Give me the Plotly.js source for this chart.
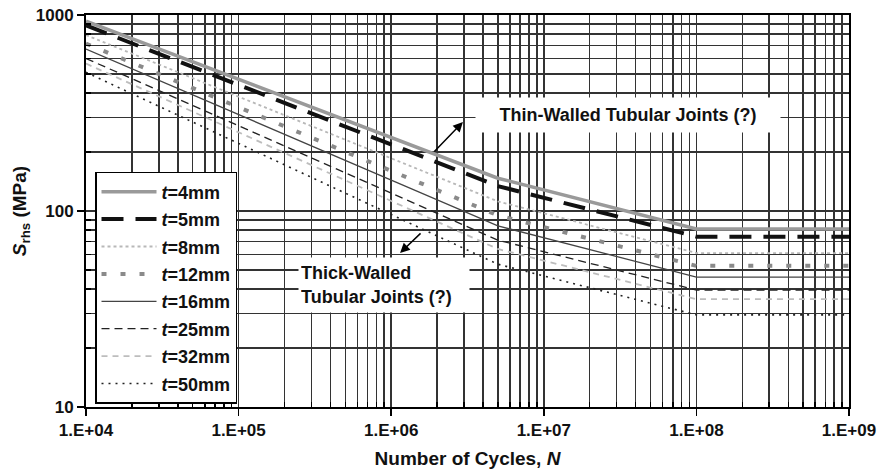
<!DOCTYPE html>
<html><head><meta charset="utf-8">
<script src="https://cdn.plot.ly/plotly-3.0.1.min.js"></script>
<style>html,body{margin:0;padding:0;background:#fff}#chart{width:878px;height:470px}</style>
</head><body><div id="chart"></div>
<script>
// Number of cycles at which values were read (start, slope change, knee, end)
const cycles = [1e4, 5e6, 1e8, 1e9];
// Hot-spot stress range S_rhs (MPa)
const s_t4  = [930, 147, 81, 81];
const s_t5  = [885, 134, 74, 74];
const s_t8  = [790, 112, 61, 61];
const s_t12 = [715, 95, 52.5, 52.5];
const s_t16 = [670, 84, 46, 46];
const s_t25 = [600, 71, 39.5, 39.5];
const s_t32 = [565, 64, 35.5, 35.5];
const s_t50 = [510, 53.5, 29.5, 29.5];
const seriesNames = ['<i>t</i>=4mm','<i>t</i>=5mm','<i>t</i>=8mm','<i>t</i>=12mm','<i>t</i>=16mm','<i>t</i>=25mm','<i>t</i>=32mm','<i>t</i>=50mm'];
const xTickVals = [1e4, 1e5, 1e6, 1e7, 1e8, 1e9];
const xTickText = ['1.E+04','1.E+05','1.E+06','1.E+07','1.E+08','1.E+09'];
const yTickVals = [10, 100, 1000];
const yTickText = ['10','100','1000'];

const seriesValues = [s_t4, s_t5, s_t8, s_t12, s_t16, s_t25, s_t32, s_t50];
const styles = [
  {color:'#9a9a9a', width:3.5, dash:'solid'},
  {color:'#111111', width:4, dash:'22px,12px'},
  {color:'#b8b8b8', width:1.8, dash:'3px,3px'},
  {color:'#8a8a8a', width:4, dash:'5px,14px'},
  {color:'#444444', width:1.3, dash:'solid'},
  {color:'#222222', width:1.3, dash:'8px,5px'},
  {color:'#bdbdbd', width:1.8, dash:'6px,5px'},
  {color:'#222222', width:1.6, dash:'2px,5px'}
];

const traces = seriesValues.map((vals, i) => ({
  x: cycles, y: vals, type: 'scatter', mode: 'lines',
  name: seriesNames[i], legendgroup: 'g' + i,
  line: styles[i]
}));

function minorVals(lo, hi) {
  const out = [];
  for (let e = lo; e < hi; e++) for (let m = 2; m <= 9; m++) out.push(m * Math.pow(10, e));
  return out;
}

const FONT = 'Liberation Sans, Arial, sans-serif';
const gridCol = '#333333';

const layout = {
  width: 878, height: 470,
  margin: {l: 86, r: 29, t: 15, b: 63},
  paper_bgcolor: '#ffffff', plot_bgcolor: '#ffffff',
  font: {family: FONT, size: 17, color: '#111', weight: 'bold'},
  showlegend: true,
  legend: {
    x: 0.0118, y: 0.5995, xanchor: 'left', yanchor: 'top',
    bgcolor: '#ffffff', bordercolor: '#000', borderwidth: 1.5,
    font: {family: FONT, size: 18, weight: 'bold', color: '#111'},
    tracegroupgap: 1, itemwidth: 55
  },
  xaxis: {
    type: 'log', range: [4, 9],
    tickmode: 'array', tickvals: xTickVals, ticktext: xTickText,
    ticks: 'outside', ticklen: 7, tickwidth: 1.5, tickcolor: '#000',
    showline: true, linecolor: '#000', linewidth: 2, mirror: true,
    showgrid: true, gridcolor: gridCol, gridwidth: 1.5, zeroline: false,
    tickfont: {family: FONT, size: 17, weight: 'bold', color: '#111'},
    minor: {tickmode: 'array', tickvals: minorVals(4, 9), showgrid: true, gridcolor: gridCol, gridwidth: 1.5, ticks: 'inside', ticklen: 5, tickcolor: '#000'},
    title: {text: 'Number of Cycles, <i>N</i>', font: {family: FONT, size: 19, weight: 'bold', color: '#111'}, standoff: 12}
  },
  yaxis: {
    type: 'log', range: [1, 3],
    tickmode: 'array', tickvals: yTickVals, ticktext: yTickText,
    ticks: 'outside', ticklen: 7, tickwidth: 1.5, tickcolor: '#000',
    showline: true, linecolor: '#000', linewidth: 2, mirror: true,
    showgrid: true, gridcolor: gridCol, gridwidth: 1.5, zeroline: false,
    tickfont: {family: FONT, size: 17, weight: 'bold', color: '#111'},
    minor: {tickmode: 'array', tickvals: minorVals(1, 3), showgrid: true, gridcolor: gridCol, gridwidth: 1.5, ticks: 'inside', ticklen: 5, tickcolor: '#000'},
    title: {text: '<i>S</i><sub>rhs</sub> (MPa)', font: {family: FONT, size: 19, weight: 'bold', color: '#111'}, standoff: 4}
  },
  annotations: [
    {xref: 'x', yref: 'y', x: 7.55, y: 2.49, text: 'Thin-Walled Tubular Joints (?)', showarrow: false,
     font: {family: FONT, size: 18, weight: 'bold', color: '#111'}, bgcolor: '#ffffff', width: 300, height: 30, borderpad: 2},
    {xref: 'x', yref: 'y', x: 6.47, y: 2.454, text: '', showarrow: true, arrowhead: 2, arrowsize: 1.3, arrowwidth: 1.5,
     arrowcolor: '#000', axref: 'pixel', ayref: 'pixel', ax: -30, ay: 31, standoff: 0},
    {xref: 'x', yref: 'y', x: 5.953, y: 1.622, text: 'Thick-Walled<br>Tubular Joints (?)', showarrow: false, align: 'left',
     font: {family: FONT, size: 18, weight: 'bold', color: '#111'}, bgcolor: '#ffffff', width: 166, height: 50, borderpad: 2},
    {xref: 'x', yref: 'y', x: 6.058, y: 1.786, text: '', showarrow: true, arrowhead: 2, arrowsize: 1.3, arrowwidth: 1.5,
     arrowcolor: '#000', axref: 'pixel', ayref: 'pixel', ax: 22, ay: -21, standoff: 0}
  ]
};

Plotly.newPlot('chart', traces, layout, {staticPlot: true, displayModeBar: false});
</script>
</body></html>
